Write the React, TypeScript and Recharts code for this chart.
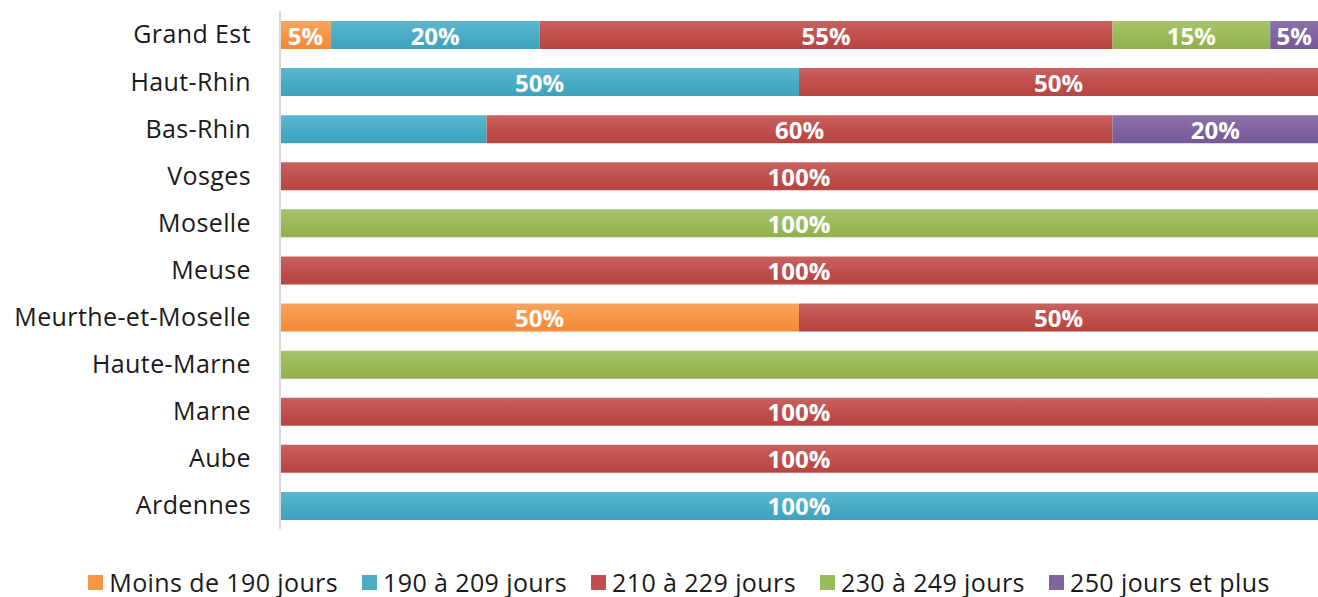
import React from 'react';
import { BarChart, Bar, XAxis, YAxis, Legend, LabelList } from 'recharts';

const categories = [
  'Grand Est',
  'Haut-Rhin',
  'Bas-Rhin',
  'Vosges',
  'Moselle',
  'Meuse',
  'Meurthe-et-Moselle',
  'Haute-Marne',
  'Marne',
  'Aube',
  'Ardennes',
];

const seriesNames = [
  'Moins de 190 jours',
  '190 à 209 jours',
  '210 à 229 jours',
  '230 à 249 jours',
  '250 jours et plus',
];

const moins190 = [4.9, 0, 0, 0, 0, 0, 50, 0, 0, 0, 0];
const j190a209 = [20.1, 50, 19.9, 0, 0, 0, 0, 0, 0, 0, 100];
const j210a229 = [55.2, 50, 60.3, 100, 0, 100, 50, 0, 100, 100, 0];
const j230a249 = [15.2, 0, 0, 0, 100, 0, 0, 100, 0, 0, 0];
const j250plus = [4.6, 0, 19.8, 0, 0, 0, 0, 0, 0, 0, 0];

// segments whose data label is not shown in the original
const hiddenLabels = ['Bas-Rhin|1', 'Haute-Marne|3'];

const colors = [
  { base: '#F79646', top: '#FAA35F', bottom: '#F0893A' },
  { base: '#4BACC6', top: '#5DB6CD', bottom: '#3CA2BC' },
  { base: '#C0504D', top: '#C9625F', bottom: '#B64441' },
  { base: '#9BBB59', top: '#A6C46A', bottom: '#8FB04C' },
  { base: '#8064A2', top: '#8C72AC', bottom: '#755897' },
];

const seriesData = [moins190, j190a209, j210a229, j230a249, j250plus];

const data = categories.map((name, i) => {
  const row: Record<string, string | number> = { name };
  seriesData.forEach((s, k) => {
    row[`s${k}`] = s[i];
    row[`l${k}`] =
      s[i] && !hiddenLabels.includes(`${name}|${k}`) ? `${Math.round(s[i])}%` : '';
  });
  return row;
});

const FONT = '"Open Sans", Lato, sans-serif';

const renderLabel = (props: any) => {
  const { x, y, width, height, value } = props;
  if (!value) return null;
  return (
    <text
      x={x + width / 2}
      y={y + height / 2}
      textAnchor="middle"
      dominantBaseline="central"
      fill="#ffffff"
      fontFamily={FONT}
      fontWeight={700}
      fontSize={24}
    >
      {value}
    </text>
  );
};

function LegendContent() {
  return (
    <div
      style={{
        display: 'flex',
        justifyContent: 'center',
        alignItems: 'center',
        fontFamily: FONT,
        fontSize: 25,
        letterSpacing: 0.4,
        color: '#1a1a1a',
        gap: 24,
        height: 30,
        marginLeft: 40,
      }}
    >
      {seriesNames.map((n, k) => (
        <div key={n} style={{ display: 'flex', alignItems: 'center' }}>
          <span
            style={{
              display: 'inline-block',
              width: 15,
              height: 15,
              background: colors[k].base,
              marginRight: 6,
            }}
          />
          <span>{n}</span>
        </div>
      ))}
    </div>
  );
}

export default function App() {
  return (
    <div style={{ position: 'absolute', left: 0, top: 0, background: '#fff' }}>
      <BarChart
        width={1318}
        height={597}
        data={data}
        layout="vertical"
        barSize={28}
        margin={{ top: 11, right: 0, left: 0, bottom: 38 }}
      >
        <defs>
          {colors.map((c, k) => (
            <linearGradient key={k} id={`grad${k}`} x1="0" y1="0" x2="0" y2="1">
              <stop offset="0%" stopColor={c.top} />
              <stop offset="50%" stopColor={c.base} />
              <stop offset="100%" stopColor={c.bottom} />
            </linearGradient>
          ))}
        </defs>
        <XAxis type="number" domain={[0, 100]} hide />
        <YAxis
          type="category"
          dataKey="name"
          width={280}
          tickLine={false}
          tickMargin={23}
          axisLine={{ stroke: '#D9D9D9', strokeWidth: 2 }}
          tick={{ fill: '#1a1a1a', fontSize: 25, fontFamily: FONT, letterSpacing: 0.4 }}
          interval={0}
        />
        <Legend
          verticalAlign="bottom"
          content={<LegendContent />}
          wrapperStyle={{ bottom: 0 }}
        />
        {seriesData.map((_, k) => (
          <Bar
            key={k}
            dataKey={`s${k}`}
            name={seriesNames[k]}
            stackId="a"
            fill={`url(#grad${k})`}
            isAnimationActive={false}
          >
            <LabelList dataKey={`l${k}`} content={renderLabel} />
          </Bar>
        ))}
      </BarChart>
    </div>
  );
}
